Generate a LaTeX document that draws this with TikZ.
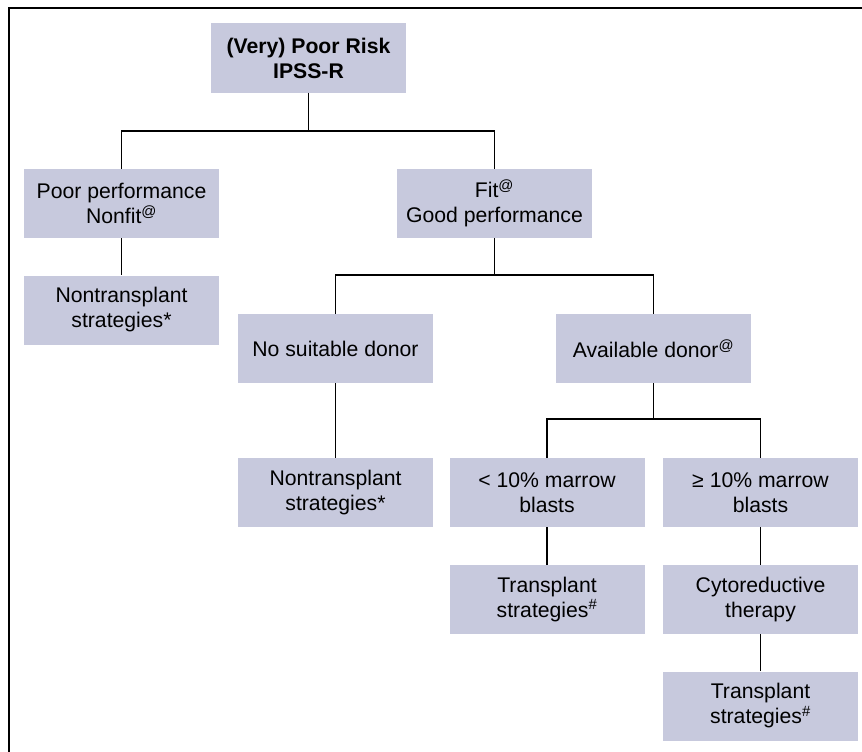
\documentclass[tikz,border=0pt]{standalone}
\usepackage{fontspec}
\setmainfont{Liberation Sans}
\usepackage{tikz}
\definecolor{boxgrau}{RGB}{199,201,221}

\begin{document}
\begin{tikzpicture}[x=1pt,y=-1pt,
		kasten/.style={fill=boxgrau,minimum width=195pt,minimum height=69pt,inner sep=0pt,align=center,font=\fontsize{21.2}{25}\selectfont},
		linie/.style={line width=1.8pt}]
		% Rahmen
		\useasboundingbox (0,0) rectangle (862,752);
		\draw[line width=2.8pt,line join=miter] (9,752) -- (9,8) -- (862,8);
		% Kaesten
		\node[kasten] (risk) at (308.5,58) {\textbf{(Very) Poor Risk}\\\textbf{IPSS-R}};
		\node[kasten] (poor) at (121.5,203.5) {Poor performance\\Nonfit\textsuperscript{@}};
		\node[kasten] (fit) at (494.5,203.5) {Fit\textsuperscript{@}\\Good performance};
		\node[kasten] (nontrans1) at (121.5,310) {Nontransplant\\strategies*};
		\node[kasten] (nodonor) at (335.5,348.5) {No suitable donor};
		\node[kasten] (donor) at (653.5,348.5) {Available donor\textsuperscript{@}};
		\node[kasten] (nontrans2) at (335.5,492.5) {Nontransplant\\strategies*};
		\node[kasten] (low) at (547,492.5) {< 10\% marrow\\blasts};
		\node[kasten] (high) at (760.5,492.5) {≥ 10\% marrow\\blasts};
		\node[kasten] (trans1) at (547,599.5) {Transplant\\strategies\textsuperscript{\#}};
		\node[kasten] (cyto) at (760.5,599.5) {Cytoreductive\\therapy};
		\node[kasten] (trans2) at (760.5,706) {Transplant\\strategies\textsuperscript{\#}};
		% Verzweigungen
		\coordinate (j1) at (308.5,131);
		\coordinate (j2) at (494.5,275);
		\coordinate (j3) at (653.5,419);
		% Linien
		\draw[linie] (risk) -- (j1);
		\draw[linie] (poor) |- (j1) -| (fit);
		\draw[linie] (poor) -- (nontrans1);
		\draw[linie] (fit) -- (j2);
		\draw[linie] (nodonor) |- (j2) -| (donor);
		\draw[linie] (nodonor) -- (nontrans2);
		\draw[linie] (donor) -- (j3);
		\draw[linie] (low) |- (j3) -| (high);
		\draw[linie] (low) -- (trans1);
		\draw[linie] (high) -- (cyto);
		\draw[linie] (cyto) -- (trans2);
	\end{tikzpicture}
\end{document}
